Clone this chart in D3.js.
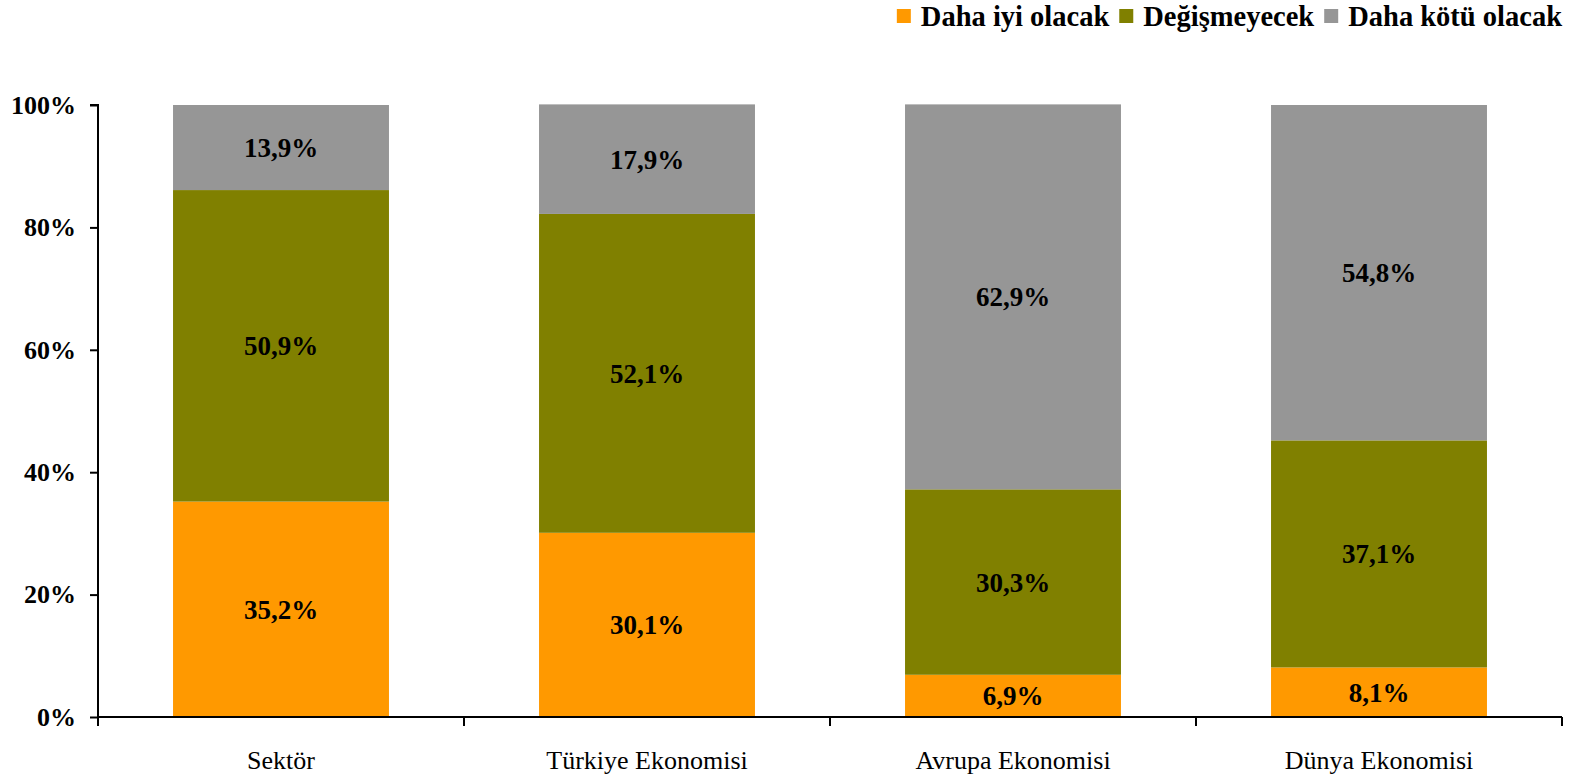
<!DOCTYPE html>
<html>
<head>
<meta charset="utf-8">
<script src="https://cdn.jsdelivr.net/npm/d3@7"></script>
<style>
  html, body { margin: 0; padding: 0; background: #fff; }
  svg { display: block; }
  text { font-family: "Liberation Serif", "DejaVu Serif", serif; fill: #000; }
</style>
</head>
<body>
<svg id="chart" width="1587" height="778"></svg>
<script>
// Survey categories and the share of answers per outlook (percent)
const categories = ["Sektör", "Türkiye Ekonomisi", "Avrupa Ekonomisi", "Dünya Ekonomisi"];
const seriesNames = ["Daha iyi olacak", "Değişmeyecek", "Daha kötü olacak"];
const better = [35.2, 30.1, 6.9, 8.1];
const unchanged = [50.9, 52.1, 30.3, 37.1];
const worse = [13.9, 17.9, 62.9, 54.8];
const yTicks = [0, 20, 40, 60, 80, 100];
const colors = ["#FF9900", "#808000", "#969696"];

const seriesValues = [better, unchanged, worse];
const rows = categories.map((c, i) => {
  const r = { category: c };
  seriesNames.forEach((s, k) => { r[s] = seriesValues[k][i]; });
  return r;
});

const svg = d3.select("#chart");
const margin = { left: 98, right: 25, top: 105, bottom: 61 };
const W = 1587, H = 778;

const x = d3.scaleBand()
  .domain(categories)
  .range([margin.left, W - margin.right])
  .paddingInner(0.41)
  .paddingOuter(0.205);

const y = d3.scaleLinear()
  .domain([0, 100])
  .range([H - margin.bottom, margin.top]);

const stack = d3.stack().keys(seriesNames);
const layers = stack(rows);

const fmt = v => d3.format(".1f")(v).replace(".", ",") + "%";

// Stacked bars
const g = svg.append("g");
layers.forEach((layer, k) => {
  g.selectAll(null)
    .data(layer)
    .join("rect")
    .attr("x", d => x(d.data.category))
    .attr("width", x.bandwidth())
    .attr("y", d => y(d[1]))
    .attr("height", d => y(d[0]) - y(d[1]))
    .attr("fill", colors[k]);
});

// Value labels, centred in each segment
layers.forEach((layer, k) => {
  g.selectAll(null)
    .data(layer)
    .join("text")
    .attr("x", d => x(d.data.category) + x.bandwidth() / 2)
    .attr("y", d => (y(d[0]) + y(d[1])) / 2)
    .attr("dy", "0.35em")
    .attr("text-anchor", "middle")
    .attr("font-size", 27)
    .attr("font-weight", "bold")
    .text(d => fmt(d.data[layer.key]));
});

// Y axis
const yAxis = d3.axisLeft(y)
  .tickValues(yTicks)
  .tickFormat(d => d + "%")
  .tickSize(8)
  .tickPadding(14);
const ya = svg.append("g")
  .attr("transform", `translate(${margin.left},0)`)
  .call(yAxis);
ya.select(".domain").attr("stroke", "#000").attr("stroke-width", 2)
  .attr("d", `M-8,${y(100)}H0V${y(0)}`);
ya.selectAll(".tick line").attr("stroke", "#000").attr("stroke-width", 2);
ya.selectAll(".tick text")
  .attr("font-size", 26).attr("font-weight", "bold")
  .style("font-family", "'Liberation Serif', serif").attr("fill", "#000");

// X axis: tick marks at band boundaries
const xa = svg.append("g")
  .attr("transform", `translate(0,${y(0)})`);
xa.append("line")
  .attr("x1", margin.left).attr("x2", W - margin.right)
  .attr("stroke", "#000").attr("stroke-width", 2);
const step = x.step();
const bounds = d3.range(categories.length + 1).map(i => margin.left + i * step);
xa.selectAll(".bt")
  .data(bounds)
  .join("line")
  .attr("x1", d => d).attr("x2", d => d)
  .attr("y1", 0).attr("y2", 9)
  .attr("stroke", "#000").attr("stroke-width", 2);
xa.selectAll(".cl")
  .data(categories)
  .join("text")
  .attr("x", d => x(d) + x.bandwidth() / 2)
  .attr("y", 43)
  .attr("dy", "0.35em")
  .attr("text-anchor", "middle")
  .attr("font-size", 26)
  .text(d => d);

// Legend, right-aligned at the top
const legend = svg.append("g").attr("transform", "translate(0,9)");
const items = seriesNames.map((s, k) => {
  const lg = legend.append("g");
  lg.append("rect").attr("width", 14).attr("height", 14).attr("fill", colors[k]);
  const t = lg.append("text")
    .attr("x", 24).attr("y", 7).attr("dy", "0.35em")
    .attr("font-size", 28.5).attr("font-weight", "bold")
    .text(s);
  return { lg, w: 24 + t.node().getComputedTextLength() };
});
let cursor = W - margin.right;
for (let k = items.length - 1; k >= 0; k--) {
  cursor -= items[k].w;
  items[k].lg.attr("transform", `translate(${cursor},0)`);
  cursor -= 10;
}
</script>
</body>
</html>
